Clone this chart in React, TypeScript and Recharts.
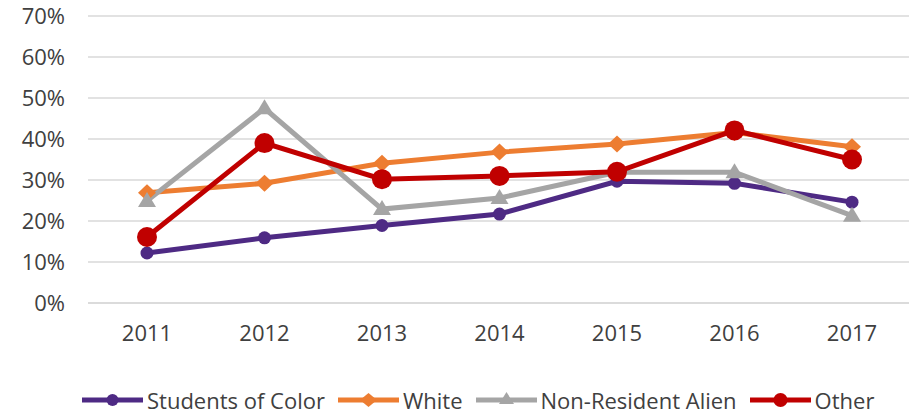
import React from "react";
import { LineChart, Line, XAxis, YAxis, CartesianGrid } from "recharts";

const years = ["2011", "2012", "2013", "2014", "2015", "2016", "2017"];
const studentsOfColor = [0.122, 0.159, 0.189, 0.217, 0.297, 0.292, 0.246];
const white = [0.269, 0.292, 0.341, 0.368, 0.388, 0.416, 0.381];
const nonResidentAlien = [0.249, 0.475, 0.229, 0.256, 0.319, 0.319, 0.213];
const other = [0.161, 0.39, 0.302, 0.31, 0.32, 0.421, 0.35];
const yTicks = [0, 0.1, 0.2, 0.3, 0.4, 0.5, 0.6, 0.7];

const data = years.map((y, i) => ({
  year: y,
  soc: studentsOfColor[i],
  white: white[i],
  nra: nonResidentAlien[i],
  other: other[i],
}));

const C_SOC = "#4E2A84";
const C_WHITE = "#ED7D31";
const C_NRA = "#A5A5A5";
const C_OTHER = "#C00000";
const FONT = "'Open Sans', sans-serif";
const TXT = "#404040";

const CircleDot = (r: number, color: string) => (props: any) => {
  const { cx, cy, index } = props;
  if (cx == null || cy == null) return <g key={index} />;
  return <circle key={index} cx={cx} cy={cy} r={r} fill={color} stroke="none" />;
};
const DiamondDot = (props: any) => {
  const { cx, cy, index } = props;
  if (cx == null || cy == null) return <g key={index} />;
  const w = 9, h = 8.5;
  return (
    <polygon
      key={index}
      points={`${cx},${cy - h} ${cx + w},${cy} ${cx},${cy + h} ${cx - w},${cy}`}
      fill={C_WHITE}
    />
  );
};
const TriangleDot = (props: any) => {
  const { cx, cy, index } = props;
  if (cx == null || cy == null) return <g key={index} />;
  return (
    <polygon
      key={index}
      points={`${cx},${cy - 9} ${cx + 9},${cy + 6} ${cx - 9},${cy + 6}`}
      fill={C_NRA}
    />
  );
};

const legendItems = [
  { name: "Students of Color", color: C_SOC, shape: "circle-s" },
  { name: "White", color: C_WHITE, shape: "diamond" },
  { name: "Non-Resident Alien", color: C_NRA, shape: "triangle" },
  { name: "Other", color: C_OTHER, shape: "circle-l" },
];

const LegendIcon = ({ color, shape }: { color: string; shape: string }) => (
  <svg width={61} height={20} style={{ display: "block" }}>
    <line x1={0} y1={10} x2={61} y2={10} stroke={color} strokeWidth={5} />
    {shape === "circle-s" && <circle cx={30.5} cy={10} r={6} fill={color} />}
    {shape === "circle-l" && <circle cx={30.5} cy={10} r={7} fill={color} />}
    {shape === "diamond" && (
      <polygon points="30.5,3 39,10 30.5,17 22,10" fill={color} />
    )}
    {shape === "triangle" && (
      <polygon points="30.5,2 38,14 23,14" fill={color} />
    )}
  </svg>
);

export default function App() {
  return (
    <div
      style={{
        position: "absolute",
        left: 0,
        top: 0,
        width: 909,
        height: 414,
        overflow: "hidden",
        background: "#fff",
      }}
    >
      <LineChart
        width={912}
        height={414}
        data={data}
        margin={{ top: 16, right: 0, bottom: 71, left: 0 }}
      >
        <CartesianGrid horizontal vertical={false} stroke="#D9D9D9" strokeWidth={1.5} />
        <XAxis
          dataKey="year"
          height={40}
          padding={{ left: 59, right: 60 }}
          axisLine={{ stroke: "#D9D9D9", strokeWidth: 1.5 }}
          tickLine={false}
          tickSize={0}
          tickMargin={22}
          tick={{ fill: TXT, fontSize: 22, fontFamily: FONT }}
          interval={0}
        />
        <YAxis
          width={88}
          domain={[0, 0.7]}
          ticks={yTicks}
          axisLine={false}
          tickLine={false}
          tickSize={0}
          tickMargin={23}
          tickFormatter={(v: number) => `${Math.round(v * 100)}%`}
          tick={{ fill: TXT, fontSize: 22, fontFamily: FONT }}
        />
        <Line
          type="linear"
          dataKey="soc"
          stroke={C_SOC}
          strokeWidth={5}
          dot={CircleDot(6.5, C_SOC)}
          activeDot={false}
          isAnimationActive={false}
        />
        <Line
          type="linear"
          dataKey="white"
          stroke={C_WHITE}
          strokeWidth={5}
          dot={DiamondDot}
          activeDot={false}
          isAnimationActive={false}
        />
        <Line
          type="linear"
          dataKey="nra"
          stroke={C_NRA}
          strokeWidth={5}
          dot={TriangleDot}
          activeDot={false}
          isAnimationActive={false}
        />
        <Line
          type="linear"
          dataKey="other"
          stroke={C_OTHER}
          strokeWidth={5}
          dot={CircleDot(10, C_OTHER)}
          activeDot={false}
          isAnimationActive={false}
        />
      </LineChart>
      <div
        style={{
          position: "absolute",
          left: 82,
          top: 386,
          display: "flex",
          alignItems: "center",
          fontFamily: FONT,
          fontSize: 22,
          color: TXT,
          whiteSpace: "nowrap",
          lineHeight: "28px",
        }}
      >
        {legendItems.map((it) => (
          <div
            key={it.name}
            style={{ display: "flex", alignItems: "center", marginRight: 13 }}
          >
            <LegendIcon color={it.color} shape={it.shape} />
            <span style={{ marginLeft: 4 }}>{it.name}</span>
          </div>
        ))}
      </div>
    </div>
  );
}
